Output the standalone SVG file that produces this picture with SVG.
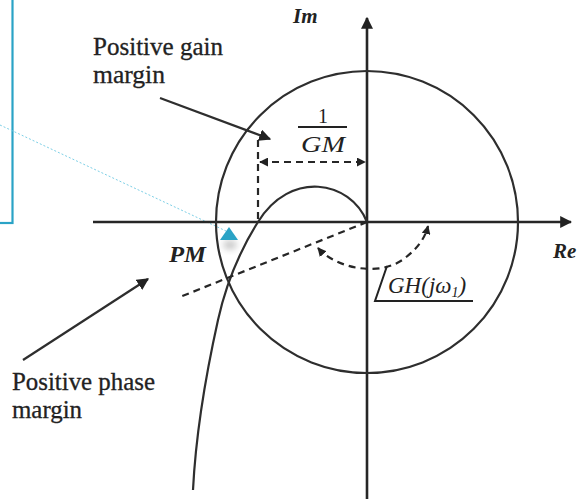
<svg xmlns="http://www.w3.org/2000/svg" width="577" height="499" viewBox="0 0 577 499">
<style>
.ax{stroke:#262626;stroke-width:2.6;fill:none}
.ln{stroke:#2e2e2e;stroke-width:2.2;fill:none}
.ds{stroke:#262626;stroke-width:2.2;fill:none;stroke-dasharray:7 5}
.lbl{font-family:'Liberation Serif','DejaVu Serif',serif;fill:#222;font-size:25px;stroke:#222;stroke-width:0.3}
.it{font-family:'Liberation Serif','DejaVu Serif',serif;fill:#222;font-style:italic}
.up{font-family:'Liberation Serif','DejaVu Serif',serif;fill:#222;font-style:normal}
.bl{stroke:#2aa3c6;fill:none}
</style>
<defs>
<marker id="ah" viewBox="0 0 10 10" refX="9" refY="5" markerWidth="12" markerHeight="12" markerUnits="userSpaceOnUse" orient="auto-start-reverse">
<path d="M0 0 L10 5 L0 10 Z" fill="#222"/>
</marker>
<marker id="ahs" viewBox="0 0 10 10" refX="9" refY="5" markerWidth="9" markerHeight="9" markerUnits="userSpaceOnUse" orient="auto-start-reverse">
<path d="M0 0 L10 5 L0 10 Z" fill="#222"/>
</marker>
<filter id="blur" x="-50%" y="-50%" width="200%" height="200%"><feGaussianBlur stdDeviation="3"/></filter>
</defs>

<g id="callout">
<rect class="bl" x="-10" y="-10" width="22.5" height="233" stroke-width="2.2"/>
<line x1="0" y1="125" x2="226" y2="231" stroke="#7ccfe6" stroke-width="1" stroke-dasharray="2 2"/>
<ellipse cx="230" cy="245" rx="7" ry="5" fill="#999" opacity="0.5" filter="url(#blur)"/>
<path d="M229 227 L238 240 L220 240 Z" fill="#2aa3c6"/>
</g>

<g id="axes">
<line class="ax" x1="93" y1="222" x2="571" y2="222" marker-end="url(#ah)"/>
<line class="ax" x1="367" y1="499" x2="367" y2="18" marker-end="url(#ah)"/>
<text class="it" x="293" y="23" font-size="21" font-weight="bold">Im</text>
<text class="it" x="553" y="258" font-size="21" font-weight="bold">Re</text>
</g>

<g id="unit-circle">
<circle class="ln" cx="367" cy="222" r="151"/>
</g>

<g id="nyquist-curve">
<path class="ln" stroke="#404040" d="M367 222 C350 180 290 170 258 222 C246 241 228 275 218 320 C208 365 196 430 193 490"/>
</g>

<g id="connectors">
<line class="ds" x1="258" y1="140" x2="258" y2="222"/>
<line class="ds" x1="260" y1="162" x2="365" y2="162" marker-start="url(#ahs)" marker-end="url(#ahs)"/>
<line class="ds" x1="367" y1="222" x2="180" y2="297"/>
<path class="ds" d="M318 248 C335 268 380 278 405 258 C418 248 425 238 428 226" marker-start="url(#ahs)" marker-end="url(#ahs)"/>
<line class="ln" x1="160" y1="98" x2="270" y2="139" marker-end="url(#ah)" stroke-width="2.6"/>
<line class="ln" x1="23" y1="360" x2="148" y2="279" marker-end="url(#ah)" stroke-width="2.6"/>
</g>

<g id="gm-label">
<text class="up" x="323" y="123" font-size="20" text-anchor="middle">1</text>
<line x1="298" y1="127" x2="347" y2="127" stroke="#222" stroke-width="2"/>
<text class="it" x="301" y="152" font-size="23" textLength="44" lengthAdjust="spacingAndGlyphs">GM</text>
</g>

<g id="pm-label">
<text class="it" x="169" y="262" font-size="23" font-weight="bold" textLength="37" lengthAdjust="spacingAndGlyphs">PM</text>
</g>

<g id="angle-label">
<path d="M387 266 L375 301 L473 301" stroke="#222" stroke-width="2" fill="none"/>
<text class="it" x="388" y="293" font-size="23">GH(jω<tspan font-size="14" dy="4">1</tspan><tspan dy="-4">)</tspan></text>
</g>

<g id="gain-text">
<text class="lbl" x="93" y="55" textLength="130" lengthAdjust="spacingAndGlyphs">Positive gain</text>
<text class="lbl" x="93" y="83" textLength="72" lengthAdjust="spacingAndGlyphs">margin</text>
</g>

<g id="phase-text">
<text class="lbl" x="12" y="390" textLength="143" lengthAdjust="spacingAndGlyphs">Positive phase</text>
<text class="lbl" x="12" y="418" textLength="70" lengthAdjust="spacingAndGlyphs">margin</text>
</g>
</svg>
